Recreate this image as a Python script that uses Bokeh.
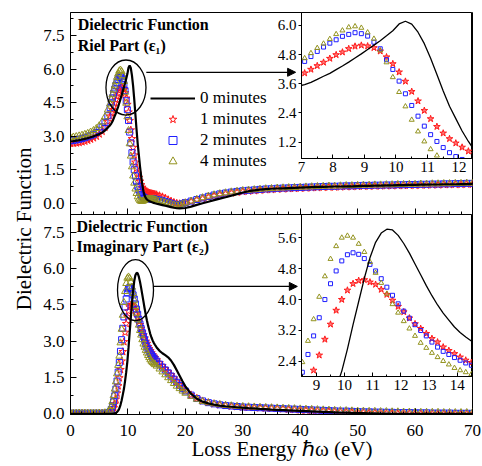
from bokeh.plotting import figure
from bokeh.models import (ColumnDataSource, Range1d, SingleIntervalTicker,
                          PrintfTickFormatter, Legend, LegendItem, Label, Title,
                          Arrow, NormalHead, GridBox)
from bokeh.embed import file_html
from bokeh.resources import INLINE

FONT = "Liberation Serif"
RED = "#ff1a1a"
BLUE = "#1f1fff"
OLIVE = "#93931f"

# ---------------- data ----------------
loss_energy = [
    0.0, 0.5, 1.0, 1.5, 2.0, 2.5, 3.0, 3.5, 4.0, 4.5, 5.0, 5.5, 6.0, 6.5,
    6.9, 7.1, 7.3, 7.5, 7.7, 7.9, 8.1, 8.3, 8.5, 8.7, 8.9, 9.1, 9.3, 9.5, 9.7, 9.9,
    10.1, 10.3, 10.5, 10.7, 10.9, 11.1, 11.3, 11.5, 11.7, 11.9, 12.1, 12.3, 12.5, 12.7, 12.9,
    13.1, 13.3, 13.5, 13.7, 13.9, 14.1, 14.3, 14.5, 14.7,
    15.0, 15.5, 16.0, 16.5, 17.0, 17.5, 18.0, 18.5, 19.0, 19.5, 20.0,
    21, 22, 23, 24, 25, 26, 27, 28, 29, 30,
    31, 32, 33, 34, 35, 36, 37, 38, 39, 40,
    41, 42, 43, 44, 45, 46, 47, 48, 49, 50,
    51, 52, 53, 54, 55, 56, 57, 58, 59, 60,
    61, 62, 63, 64, 65, 66, 67, 68, 69, 70]

# real part eps1
eps1_0min = [
    2.78, 2.79, 2.81, 2.83, 2.86, 2.89, 2.92, 2.96, 3.00, 3.05, 3.10, 3.17, 3.26, 3.39,
    3.50, 3.57, 3.66, 3.78, 3.91, 4.03, 4.18, 4.33, 4.49, 4.66, 4.83, 5.01, 5.19, 5.37, 5.57, 5.78,
    6.06, 6.17, 6.05, 5.72, 5.25, 4.65, 3.98, 3.30, 2.68, 2.17, 1.66, 1.23, 0.85, 0.55, 0.36,
    0.25, 0.18, 0.14, 0.11, 0.09, 0.07, 0.05, 0.03, 0.01,
    -0.01, -0.04, -0.07, -0.10, -0.13, -0.16, -0.19, -0.21, -0.22, -0.21, -0.20,
    -0.14, -0.06, 0.01, 0.08, 0.15, 0.22, 0.28, 0.35, 0.42, 0.49,
    0.55, 0.59, 0.62, 0.64, 0.66, 0.67, 0.68, 0.69, 0.70, 0.71,
    0.72, 0.73, 0.74, 0.74, 0.75, 0.76, 0.76, 0.77, 0.77, 0.78,
    0.79, 0.79, 0.80, 0.80, 0.81, 0.81, 0.82, 0.82, 0.83, 0.83,
    0.84, 0.84, 0.85, 0.85, 0.86, 0.86, 0.86, 0.87, 0.87, 0.88]
eps1_1min = [
    2.68, 2.69, 2.70, 2.72, 2.75, 2.78, 2.82, 2.87, 2.93, 3.00, 3.10, 3.22, 3.40, 3.66,
    3.90, 4.04, 4.19, 4.34, 4.48, 4.64, 4.79, 4.90, 5.04, 5.14, 5.18, 5.15, 5.08, 4.94, 4.70, 4.42,
    4.08, 3.70, 3.28, 2.89, 2.50, 2.16, 1.84, 1.57, 1.34, 1.16, 0.99, 0.83, 0.72, 0.64, 0.58,
    0.54, 0.51, 0.49, 0.47, 0.45, 0.44, 0.43, 0.42, 0.41,
    0.39, 0.35, 0.30, 0.24, 0.17, 0.11, 0.05, 0.01, -0.01, 0.00, 0.03,
    0.09, 0.16, 0.22, 0.28, 0.34, 0.39, 0.43, 0.47, 0.50, 0.53,
    0.55, 0.57, 0.59, 0.61, 0.62, 0.64, 0.65, 0.66, 0.67, 0.68,
    0.69, 0.70, 0.71, 0.72, 0.73, 0.73, 0.74, 0.75, 0.75, 0.76,
    0.77, 0.77, 0.78, 0.78, 0.79, 0.79, 0.80, 0.80, 0.81, 0.81,
    0.82, 0.82, 0.83, 0.83, 0.84, 0.84, 0.85, 0.85, 0.86, 0.86]
eps1_2min = [
    2.80, 2.82, 2.84, 2.87, 2.90, 2.94, 2.98, 3.03, 3.09, 3.17, 3.27, 3.42, 3.62, 3.92,
    4.28, 4.52, 4.72, 4.93, 5.11, 5.27, 5.41, 5.55, 5.63, 5.70, 5.66, 5.56, 5.31, 5.04, 4.59, 4.19,
    3.71, 3.19, 2.71, 2.27, 1.86, 1.51, 1.23, 0.98, 0.77, 0.61, 0.49, 0.40, 0.33, 0.28, 0.25,
    0.23, 0.22, 0.21, 0.21, 0.21, 0.21, 0.20, 0.20, 0.19,
    0.18, 0.16, 0.13, 0.09, 0.05, 0.01, -0.03, -0.05, -0.04, -0.01, 0.04,
    0.11, 0.18, 0.25, 0.32, 0.38, 0.43, 0.47, 0.51, 0.54, 0.57,
    0.59, 0.61, 0.63, 0.65, 0.66, 0.68, 0.69, 0.70, 0.71, 0.72,
    0.73, 0.74, 0.75, 0.76, 0.77, 0.77, 0.78, 0.79, 0.79, 0.80,
    0.81, 0.81, 0.82, 0.82, 0.83, 0.83, 0.84, 0.84, 0.85, 0.85,
    0.86, 0.86, 0.87, 0.87, 0.88, 0.88, 0.89, 0.89, 0.90, 0.90]
eps1_4min = [
    2.95, 2.97, 2.99, 3.02, 3.05, 3.09, 3.13, 3.19, 3.26, 3.35, 3.47, 3.64, 3.87, 4.18,
    4.45, 4.65, 4.86, 5.07, 5.25, 5.44, 5.64, 5.79, 5.92, 5.96, 5.90, 5.71, 5.45, 4.97, 4.48, 3.87,
    3.26, 2.67, 2.12, 1.64, 1.23, 0.91, 0.65, 0.45, 0.30, 0.20, 0.13, 0.10, 0.10, 0.12, 0.15,
    0.17, 0.19, 0.20, 0.20, 0.20, 0.20, 0.19, 0.18, 0.17,
    0.15, 0.12, 0.09, 0.05, 0.01, -0.03, -0.06, -0.08, -0.06, -0.02, 0.03,
    0.11, 0.19, 0.26, 0.33, 0.39, 0.44, 0.48, 0.52, 0.55, 0.58,
    0.60, 0.62, 0.64, 0.66, 0.67, 0.69, 0.70, 0.71, 0.72, 0.73,
    0.74, 0.75, 0.76, 0.77, 0.78, 0.78, 0.79, 0.80, 0.80, 0.81,
    0.82, 0.82, 0.83, 0.83, 0.84, 0.84, 0.85, 0.85, 0.86, 0.86,
    0.87, 0.87, 0.88, 0.88, 0.89, 0.89, 0.90, 0.90, 0.91, 0.91]

# imaginary part eps2
eps2_0min = [
    0.00, 0.00, 0.00, 0.00, 0.00, 0.00, 0.00, 0.00, 0.00, 0.00, 0.00, 0.00, 0.00, 0.00,
    0.00, 0.00, 0.00, 0.01, 0.02, 0.04, 0.07, 0.13, 0.22, 0.36, 0.55, 0.78, 1.02, 1.35, 1.72, 2.15,
    2.72, 3.35, 3.95, 4.55, 5.08, 5.48, 5.72, 5.82, 5.80, 5.66, 5.45, 5.20, 4.92, 4.64, 4.36,
    4.10, 3.86, 3.65, 3.47, 3.29, 3.15, 3.03, 2.93, 2.85,
    2.74, 2.60, 2.50, 2.42, 2.33, 2.20, 2.02, 1.80, 1.57, 1.34, 1.13,
    0.82, 0.62, 0.50, 0.43, 0.38, 0.34, 0.31, 0.29, 0.27, 0.25,
    0.23, 0.22, 0.20, 0.19, 0.17, 0.16, 0.15, 0.14, 0.13, 0.12,
    0.11, 0.10, 0.09, 0.08, 0.07, 0.06, 0.05, 0.05, 0.04, 0.03,
    0.03, 0.02, 0.02, 0.01, 0.01, 0.00, 0.00, 0.00, 0.00, 0.00,
    0.00, 0.00, 0.00, 0.00, 0.00, 0.00, 0.00, 0.00, 0.00, 0.00]
eps2_1min = [
    0.01, 0.01, 0.01, 0.01, 0.01, 0.01, 0.01, 0.01, 0.01, 0.01, 0.01, 0.01, 0.01, 0.02,
    0.03, 0.07, 0.14, 0.25, 0.40, 0.60, 0.85, 1.15, 1.48, 1.82, 2.17, 2.56, 2.97, 3.36, 3.72, 4.00,
    4.24, 4.41, 4.49, 4.51, 4.45, 4.39, 4.26, 4.13, 3.98, 3.82, 3.68, 3.52, 3.37, 3.25, 3.12,
    2.99, 2.90, 2.77, 2.68, 2.60, 2.51, 2.43, 2.37, 2.31,
    2.22, 2.10, 1.98, 1.86, 1.74, 1.61, 1.47, 1.33, 1.20, 1.07, 0.95,
    0.78, 0.64, 0.53, 0.46, 0.41, 0.37, 0.34, 0.31, 0.29, 0.27,
    0.26, 0.25, 0.24, 0.23, 0.22, 0.21, 0.20, 0.18, 0.17, 0.15,
    0.14, 0.13, 0.12, 0.11, 0.10, 0.09, 0.08, 0.07, 0.06, 0.05,
    0.05, 0.04, 0.04, 0.03, 0.02, 0.02, 0.01, 0.01, 0.01, 0.00,
    0.00, 0.00, 0.00, 0.00, 0.00, 0.00, 0.00, 0.00, 0.00, 0.00]
eps2_2min = [
    0.02, 0.02, 0.02, 0.02, 0.02, 0.02, 0.02, 0.02, 0.02, 0.02, 0.02, 0.02, 0.03, 0.04,
    0.08, 0.18, 0.32, 0.50, 0.74, 1.02, 1.35, 1.72, 2.12, 2.58, 3.06, 3.53, 4.00, 4.41, 4.74, 5.00,
    5.16, 5.21, 5.17, 5.06, 4.91, 4.74, 4.54, 4.32, 4.11, 3.89, 3.70, 3.52, 3.35, 3.20, 3.06,
    2.90, 2.77, 2.66, 2.58, 2.50, 2.43, 2.36, 2.30, 2.25,
    2.17, 2.05, 1.93, 1.81, 1.69, 1.56, 1.43, 1.30, 1.17, 1.05, 0.94,
    0.77, 0.63, 0.53, 0.46, 0.41, 0.37, 0.34, 0.32, 0.30, 0.28,
    0.27, 0.26, 0.25, 0.24, 0.23, 0.22, 0.21, 0.20, 0.19, 0.18,
    0.17, 0.16, 0.15, 0.14, 0.13, 0.12, 0.11, 0.11, 0.10, 0.09,
    0.08, 0.08, 0.07, 0.07, 0.06, 0.06, 0.05, 0.05, 0.05, 0.04,
    0.04, 0.04, 0.03, 0.03, 0.03, 0.03, 0.02, 0.02, 0.02, 0.02]
eps2_4min = [
    0.03, 0.03, 0.03, 0.03, 0.03, 0.03, 0.03, 0.03, 0.03, 0.03, 0.03, 0.03, 0.04, 0.06,
    0.15, 0.30, 0.50, 0.75, 1.02, 1.32, 1.65, 2.00, 2.38, 2.93, 3.49, 4.07, 4.60, 5.05, 5.38, 5.60,
    5.65, 5.60, 5.44, 5.23, 4.97, 4.69, 4.43, 4.15, 3.88, 3.66, 3.44, 3.25, 3.06, 2.88, 2.75,
    2.62, 2.51, 2.41, 2.32, 2.23, 2.17, 2.12, 2.07, 2.03,
    1.97, 1.85, 1.73, 1.61, 1.49, 1.37, 1.25, 1.14, 1.04, 0.94, 0.85,
    0.72, 0.60, 0.51, 0.45, 0.41, 0.38, 0.35, 0.33, 0.31, 0.30,
    0.29, 0.28, 0.27, 0.26, 0.25, 0.24, 0.23, 0.22, 0.21, 0.20,
    0.19, 0.18, 0.17, 0.16, 0.15, 0.14, 0.13, 0.13, 0.12, 0.11,
    0.11, 0.10, 0.10, 0.09, 0.09, 0.08, 0.08, 0.07, 0.07, 0.07,
    0.06, 0.06, 0.06, 0.06, 0.05, 0.05, 0.05, 0.05, 0.05, 0.05]

series_labels = ["0 minutes", "1 minutes", "2 minutes", "4 minutes"]
panel1_text = ["Dielectric Function", "Riel Part (\u03b5\u2081)"]
panel2_text = ["Dielectric Function", "Imaginary Part (\u03b5\u2082)"]
y_title = "Dielectric Function"
x_title = "\u2002\u2002Loss Energy \u210f\u03c9 (eV)"

# zoom markers (ellipse around the peak + arrow to the inset), data units
zoom1 = dict(x=9.66, y=5.18, w=6.97, h=2.46, ax0=13.2, ax1=39.2, ay=5.86)
zoom2 = dict(x=11.32, y=5.11, w=6.27, h=2.52, ax0=14.45, ax1=39.5, ay=5.26)

for name, arr in [("eps1_0min", eps1_0min), ("eps1_1min", eps1_1min),
                  ("eps1_2min", eps1_2min), ("eps1_4min", eps1_4min),
                  ("eps2_0min", eps2_0min), ("eps2_1min", eps2_1min),
                  ("eps2_2min", eps2_2min), ("eps2_4min", eps2_4min)]:
    if len(arr) != len(loss_energy):
        raise ValueError(f"{name}: {len(arr)} vs {len(loss_energy)}")

src1 = ColumnDataSource(dict(x=loss_energy, m0=eps1_0min, m1=eps1_1min,
                             m2=eps1_2min, m4=eps1_4min))
src2 = ColumnDataSource(dict(x=loss_energy, m0=eps2_0min, m1=eps2_1min,
                             m2=eps2_2min, m4=eps2_4min))

x_shared = Range1d(0, 70)


def style_axis(ax, size, t_in, t_out, m_in, m_out, standoff):
    ax.axis_line_color = "black"
    ax.axis_line_width = 1
    ax.major_tick_line_color = "black"
    ax.minor_tick_line_color = "black"
    ax.major_tick_in = t_in
    ax.major_tick_out = t_out
    ax.minor_tick_in = m_in
    ax.minor_tick_out = m_out
    ax.major_label_text_font = FONT
    ax.major_label_text_font_size = size
    ax.major_label_text_color = "black"
    ax.major_label_standoff = standoff


def main_fig(y_range, frame_height, top, bottom, show_x_labels):
    p = figure(frame_width=402, frame_height=frame_height,
               x_range=x_shared, y_range=y_range,
               min_border_left=70, min_border_right=10,
               min_border_top=top, min_border_bottom=bottom,
               toolbar_location=None, output_backend="svg",
               background_fill_alpha=0, border_fill_alpha=0,
               outline_line_color="black", outline_line_width=1)
    p.grid.visible = False
    xa, ya = p.xaxis[0], p.yaxis[0]
    xa.ticker = SingleIntervalTicker(interval=10, num_minor_ticks=5)
    ya.ticker = SingleIntervalTicker(interval=1.5, num_minor_ticks=2)
    ya.formatter = PrintfTickFormatter(format="%.1f")
    style_axis(ya, "17px", 6, 0, 3, 0, 6)
    style_axis(xa, "17px", 6, 0, 3, 0, 10)
    if not show_x_labels:
        xa.major_label_text_color = None
    return p


def add_series(p, src, star, square, tri, lw, star_fill):
    r1 = p.scatter("x", "m1", source=src, marker="star", size=star,
                   line_color=RED, fill_color=RED, fill_alpha=star_fill, line_width=1)
    r2 = p.scatter("x", "m2", source=src, marker="square", size=square,
                   line_color=BLUE, fill_color=None, line_width=1)
    r4 = p.scatter("x", "m4", source=src, marker="triangle", size=tri,
                   line_color=OLIVE, fill_color=None, line_width=1)
    r0 = p.line("x", "m0", source=src, line_color="black", line_width=lw)
    return r0, r1, r2, r4


def add_texts(p, lines, x, ys):
    for t, y in zip(lines, ys):
        p.add_layout(Label(x=x, y=y, text=t, text_font=FONT, text_font_size="16px",
                           text_font_style="bold", text_baseline="top",
                           text_align="left", text_color="black"))


def add_zoom(p, z):
    p.ellipse(x=[z["x"]], y=[z["y"]], width=[z["w"]], height=[z["h"]],
              fill_color=None, line_color="black", line_width=1.3)
    p.add_layout(Arrow(end=NormalHead(size=8, fill_color="black", line_color="black"),
                       x_start=z["ax0"], y_start=z["ay"], x_end=z["ax1"], y_end=z["ay"],
                       line_color="black", line_width=1.3))


def inset_fig(src, xr, yr, frame_height, top, yint):
    p = figure(frame_width=171, frame_height=frame_height,
               x_range=Range1d(*xr), y_range=Range1d(*yr),
               min_border_left=30, min_border_right=0,
               min_border_top=top, min_border_bottom=20,
               toolbar_location=None, output_backend="svg",
               background_fill_color="white", border_fill_alpha=0,
               outline_line_color="black", outline_line_width=1)
    p.grid.visible = False
    xa, ya = p.xaxis[0], p.yaxis[0]
    xa.ticker = SingleIntervalTicker(interval=1, num_minor_ticks=2)
    ya.ticker = SingleIntervalTicker(interval=yint, num_minor_ticks=2)
    ya.formatter = PrintfTickFormatter(format="%.1f")
    style_axis(xa, "15px", 4, 0, 2, 0, 3)
    style_axis(ya, "15px", 0, 3, 0, 0, 2)
    add_series(p, src, 7, 4, 5, 1.3, 0.6)
    return p


# ---------------- top panel (real part) ----------------
# its transparent canvas reaches the page bottom so the shared y title fits on it
pT = main_fig(Range1d(-0.49, 8.53), 202, 12, 252, False)
r0, r1, r2, r4 = add_series(pT, src1, 8, 6, 7, 2.2, 0.0)
add_texts(pT, panel1_text, 1.25, [8.37, 7.44])
add_zoom(pT, zoom1)
legend = Legend(items=[LegendItem(label=series_labels[0], renderers=[r0]),
                       LegendItem(label=series_labels[1], renderers=[r1]),
                       LegendItem(label=series_labels[2], renderers=[r2]),
                       LegendItem(label=series_labels[3], renderers=[r4])],
                location=(80, 43), glyph_width=45, glyph_height=20, label_height=20,
                spacing=1, padding=0, margin=0, label_standoff=5,
                border_line_color=None, background_fill_alpha=0,
                label_text_font=FONT, label_text_font_size="17px",
                label_text_color="black")
pT.add_layout(legend)

# shared y title spanning both panels (end of the text placed below the frame top)
pT.add_layout(Title(text=y_title, align="right", offset=135, standoff=10,
                    text_font=FONT, text_font_size="21px", text_font_style="normal",
                    text_color="black"), "left")

# ---------------- bottom panel (imaginary part) ----------------
pB = main_fig(Range1d(-0.03, 8.23), 200, 0, 52, True)
add_series(pB, src2, 8, 6, 7, 2.2, 0.0)
add_texts(pB, panel2_text, 1.05, [8.07, 7.24])
add_zoom(pB, zoom2)
xb = pB.xaxis[0]
xb.axis_label = x_title
xb.axis_label_text_font = FONT
xb.axis_label_text_font_size = "21px"
xb.axis_label_text_font_style = "normal"
xb.axis_label_text_color = "black"
xb.axis_label_standoff = -2

# ---------------- insets ----------------
insT = inset_fig(src1, (7.0, 12.43), (0.53, 6.53), 146, 6, 1.2)
insB = inset_fig(src2, (8.47, 14.54), (2.01, 6.2), 162, 7, 0.8)

layout = GridBox(children=[(pT, 0, 0, 4, 2), (pB, 3, 0, 1, 2),
                           (insT, 1, 1, 3, 1), (insB, 2, 1, 2, 1)],
                 rows=["6px", "201px", "7px", "252px"],
                 cols=["271px", "211px"])

open("out.html", "w").write(file_html(layout, INLINE))
